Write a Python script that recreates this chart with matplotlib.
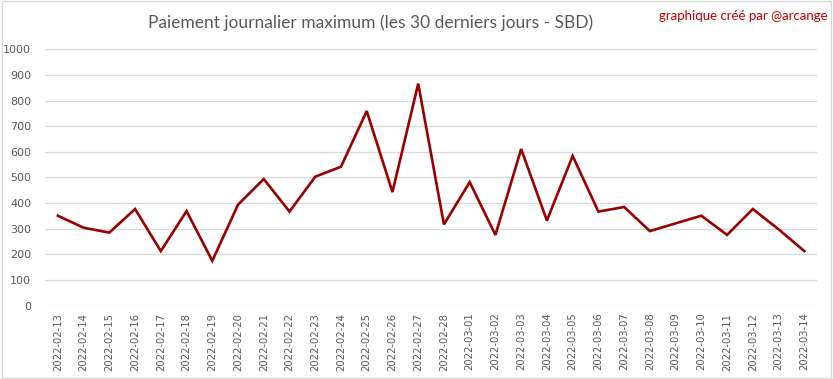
import matplotlib
matplotlib.use("Agg")
import matplotlib.pyplot as plt
from matplotlib.patches import Rectangle

dates = ["2022-02-13", "2022-02-14", "2022-02-15", "2022-02-16", "2022-02-17",
         "2022-02-18", "2022-02-19", "2022-02-20", "2022-02-21", "2022-02-22",
         "2022-02-23", "2022-02-24", "2022-02-25", "2022-02-26", "2022-02-27",
         "2022-02-28", "2022-03-01", "2022-03-02", "2022-03-03", "2022-03-04",
         "2022-03-05", "2022-03-06", "2022-03-07", "2022-03-08", "2022-03-09",
         "2022-03-10", "2022-03-11", "2022-03-12", "2022-03-13", "2022-03-14"]
max_payout = [351, 304, 285, 377, 213, 369, 175, 394, 494, 367,
              503, 542, 759, 443, 866, 317, 482, 276, 611, 332,
              584, 367, 385, 291, 321, 351, 276, 377, 298, 213]

fig = plt.figure(figsize=(8.33, 3.79), dpi=100)
ax = fig.add_axes([0.054, 0.1934, 0.927, 0.6766])

x = range(len(dates))
ax.plot(x, max_payout, color="#990000", lw=1.9, solid_joinstyle="miter")

ax.set_xlim(-0.5, len(dates) - 0.5)
ax.set_ylim(0, 1000)
ax.set_yticks(range(0, 1001, 100))
ax.set_xticks(list(x))
ax.set_xticklabels(dates, rotation=90)
ax.yaxis.grid(True, color="#d9d9d9", lw=0.9)
ax.set_axisbelow(True)
for s in ax.spines.values():
    s.set_visible(False)
ax.tick_params(axis="both", length=0, colors="#595959")
ax.tick_params(axis="y", pad=10, labelsize=8)
ax.tick_params(axis="x", pad=5, labelsize=7.2)

fig.text(0.445, 0.94, "Paiement journalier maximum (les 30 derniers jours - SBD)",
         ha="center", va="center", fontsize=12.5, color="#595959", family="Lato")
fig.text(0.994, 0.958, "graphique créé par @arcange", ha="right", va="center",
         fontsize=9.5, color="#c00000", family="Lato")

fig.patches.append(Rectangle((0.002, 0.003), 0.996, 0.994, transform=fig.transFigure,
                             fill=False, edgecolor="#d9d9d9", lw=1))

fig.savefig("out.png", dpi=100)
